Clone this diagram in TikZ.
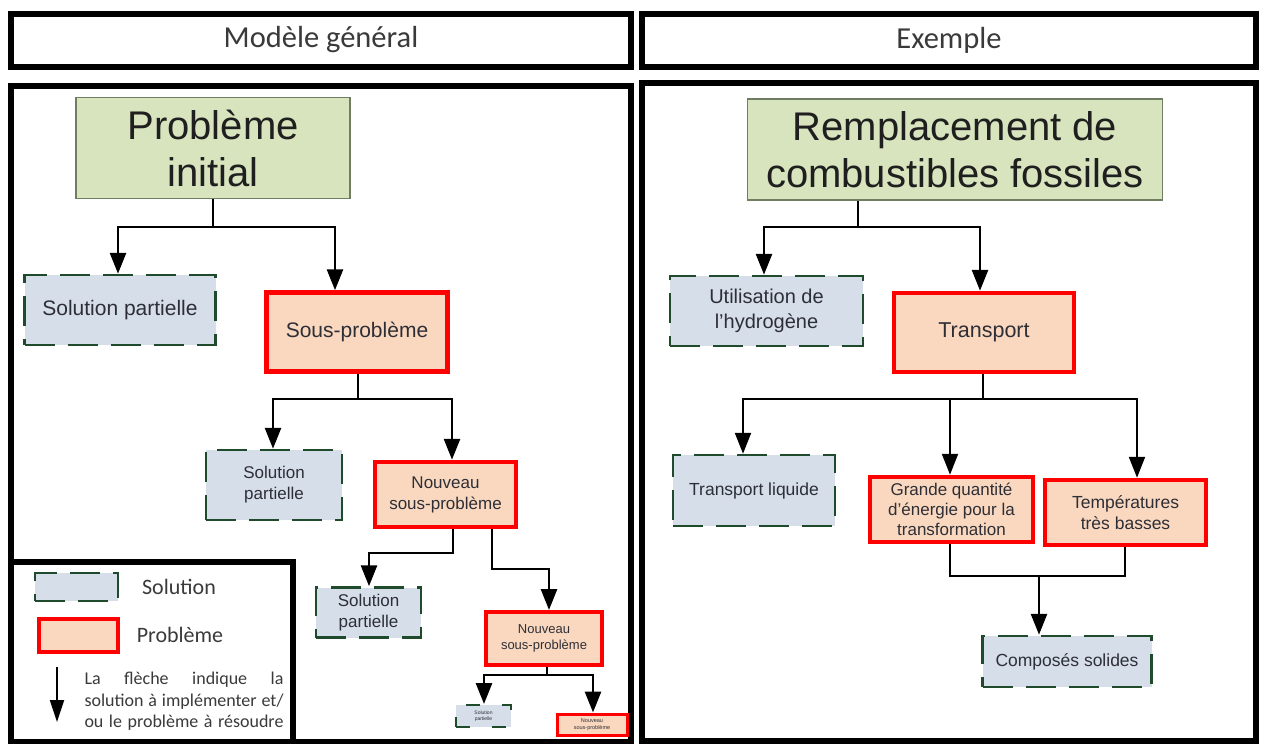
\documentclass[tikz,border=0pt]{standalone}
\usepackage{fontspec}
\setmainfont{Liberation Sans}
\newfontfamily\calibfont{Carlito}
\usetikzlibrary{arrows.meta}

\definecolor{solfill}{HTML}{D6DEEA}
\definecolor{soldraw}{HTML}{1F4B2C}
\definecolor{probfill}{HTML}{F9D8BF}
\definecolor{probdraw}{HTML}{FF0000}
\definecolor{rootfill}{HTML}{D7E4BD}
\definecolor{rootdraw}{HTML}{6F7E60}
\definecolor{ink}{HTML}{2E2E36}
\definecolor{headink}{HTML}{3A3A3A}

\newcommand{\setfs}[2]{\fontsize{#1}{#2}\selectfont}

\begin{document}
\begin{tikzpicture}[x=1pt,y=-1pt,
  box/.style={inner sep=0pt, align=center, text=ink},
  sol/.style={box, fill=solfill, draw=soldraw, line width=2.5pt, dash pattern=on 30pt off 13pt},
  prob/.style={box, fill=probfill, draw=probdraw, line width=4.5pt},
  root/.style={box, fill=rootfill, draw=rootdraw, line width=1.5pt, text=black!88},
  conn/.style={line width=2.8pt, draw=black},
  thinconn/.style={line width=1.5pt, draw=black},
  arr/.style={conn, -{Triangle[length=21pt,width=16pt]}},
  frame/.style={draw=black, line width=5.5pt},
  headtxt/.style={text=headink, font=\calibfont\setfs{30.5}{35}},
]
\useasboundingbox (0,0) rectangle (1261,744);
\fill[white] (0,0) rectangle (1261,744);

% ---------- headers and panels ----------
\draw[frame] (11,14) rectangle (631,67);
\draw[frame] (642,14) rectangle (1256,67);
\node[headtxt] (hleft) at (321,40) {Modèle général};
\node[headtxt] (hright) at (949,40) {Exemple};
\draw[frame] (11,86) rectangle (631,742);
\draw[frame] (642,83) rectangle (1256,741);

% ---------- general model ----------
\node[root, minimum width=274, minimum height=101, font=\setfs{40}{47}] (pi) at (213,148) {Problème\\initial};
\node[sol, minimum width=191, minimum height=70, font=\setfs{21}{25}] (sp1) at (120,310) {Solution partielle};
\node[prob, minimum width=181, minimum height=79, font=\setfs{21}{25}] (sub) at (357,332) {Sous-problème};
\node[sol, minimum width=136, minimum height=70, font=\setfs{17}{21}] (sp2) at (274,485) {Solution\\partielle};
\node[prob, minimum width=141, minimum height=65, font=\setfs{17}{21}] (nsp1) at (445.5,494.5) {Nouveau\\sous-problème};
\node[sol, minimum width=105, minimum height=50, font=\setfs{17}{21}] (sp3) at (368.5,612.5) {Solution\\partielle};
\node[prob, minimum width=116, minimum height=53, line width=4pt, font=\setfs{13}{16.5}] (nsp2) at (544,638.5) {Nouveau\\sous-problème};
\node[sol, minimum width=55, minimum height=22, line width=2pt, dash pattern=on 14pt off 22pt, font=\setfs{5}{6}] (sp4) at (483.5,716) {Solution\\partielle};
\node[prob, minimum width=70, minimum height=21, line width=3pt, font=\setfs{5.5}{6.5}] (nsp3) at (592,724.5) {Nouveau\\sous-problème};

\coordinate (a0) at (213,227);
\coordinate (a1l) at (118,227);
\coordinate (a1r) at (335,227);
\draw[arr] (pi.south) -- (a0) -- (a1l) -- (a1l |- sp1.north);
\draw[arr] (a0) -- (a1r) -- (a1r |- sub.north);

\coordinate (b0) at (358,399);
\coordinate (b1l) at (273,399);
\coordinate (b1r) at (452,399);
\draw[arr] (b0 |- sub.south) -- (b0) -- (b1l) -- (b1l |- sp2.north);
\draw[arr] (b0) -- (b1r) -- (b1r |- nsp1.north);

\coordinate (c1) at (453,553);
\coordinate (c2) at (369,553);
\draw[arr] (c1 |- nsp1.south) -- (c1) -- (c2) -- (c2 |- sp3.north);
\coordinate (d1) at (492,569);
\coordinate (d2) at (549,569);
\draw[arr] (d1 |- nsp1.south) -- (d1) -- (d2) -- (d2 |- nsp2.north);

\coordinate (e0) at (547,675);
\coordinate (e1l) at (484,675);
\coordinate (e1r) at (593,675);
\draw[arr] (e0 |- nsp2.south) -- (e0) -- (e1l) -- (e1l |- sp4.north);
\draw[arr] (e0) -- (e1r) -- (e1r |- nsp3.north);

% ---------- legend ----------
\draw[frame] (11,562) rectangle (293,742);
\node[sol, minimum width=83, minimum height=28] (lgsol) at (76.5,587) {};
\node[headtxt, font=\calibfont\setfs{22}{26}] (lgsoltxt) at (179,587) {Solution};
\node[prob, minimum width=79, minimum height=33] (lgprob) at (78.5,635.5) {};
\node[headtxt, font=\calibfont\setfs{22}{26}] (lgprobtxt) at (180,635) {Problème};
\coordinate (la1) at (57,667);
\coordinate (la2) at (57,722);
\draw[arr, line width=2.2pt, -{Triangle[length=22pt,width=14pt]}] (la1) -- (la2);
\node[inner sep=0pt, align=left, text=headink, font=\calibfont\setfs{18}{21.5}] (lgtxt) at (184,701.5)
  {\makebox[199pt][s]{La flèche indique la}\\
   \makebox[199pt][s]{solution à implémenter et/}\\
   \makebox[199pt][s]{ou le problème à résoudre}};

% ---------- example ----------
\node[root, minimum width=415, minimum height=101, font=\setfs{40}{47}] (rc) at (955,149.5) {Remplacement de\\combustibles fossiles};
\node[sol, minimum width=193, minimum height=70, font=\setfs{20}{25}] (uh) at (766.5,311) {Utilisation de\\l’hydrogène};
\node[prob, minimum width=180, minimum height=79, font=\setfs{21.5}{25}] (tr) at (984,332.5) {Transport};
\node[sol, minimum width=162, minimum height=71, font=\setfs{17.5}{21}] (tl) at (754,490.5) {Transport liquide};
\node[prob, minimum width=163, minimum height=65, font=\setfs{17}{20}] (gq) at (951.5,509.5) {Grande quantité\\d’énergie pour la\\transformation};
\node[prob, minimum width=161, minimum height=65, font=\setfs{17.5}{21}] (tb) at (1125.5,512.5) {Températures\\très basses};
\node[sol, minimum width=169, minimum height=51, font=\setfs{17.5}{21}] (cs) at (1067,661.5) {Composés solides};

\coordinate (f0) at (858,227);
\coordinate (f1l) at (764,227);
\coordinate (f1r) at (980,227);
\draw[arr] (f0 |- rc.south) -- (f0) -- (f1l) -- (f1l |- uh.north);
\draw[arr] (f0) -- (f1r) -- (f1r |- tr.north);

\coordinate (g0) at (983,399);
\coordinate (g1l) at (743,399);
\coordinate (g1m) at (950,399);
\coordinate (g1r) at (1137,399);
\draw[arr, line width=2.2pt] (g0 |- tr.south) -- (g0) -- (g1l) -- (g1l |- tl.north);
\draw[arr, line width=2.2pt] (g1m) -- (g1m |- gq.north);
\draw[arr, line width=2.2pt] (g0) -- (g1r) -- (g1r |- tb.north);

\coordinate (h1) at (950,576);
\coordinate (h2) at (1125,576);
\coordinate (hm) at (1039,576);
\draw[thinconn] (h1 |- gq.south) -- (h1) -- (h2) -- (h2 |- tb.south);
\draw[arr] (hm) -- (hm |- cs.north);
\end{tikzpicture}
\end{document}
